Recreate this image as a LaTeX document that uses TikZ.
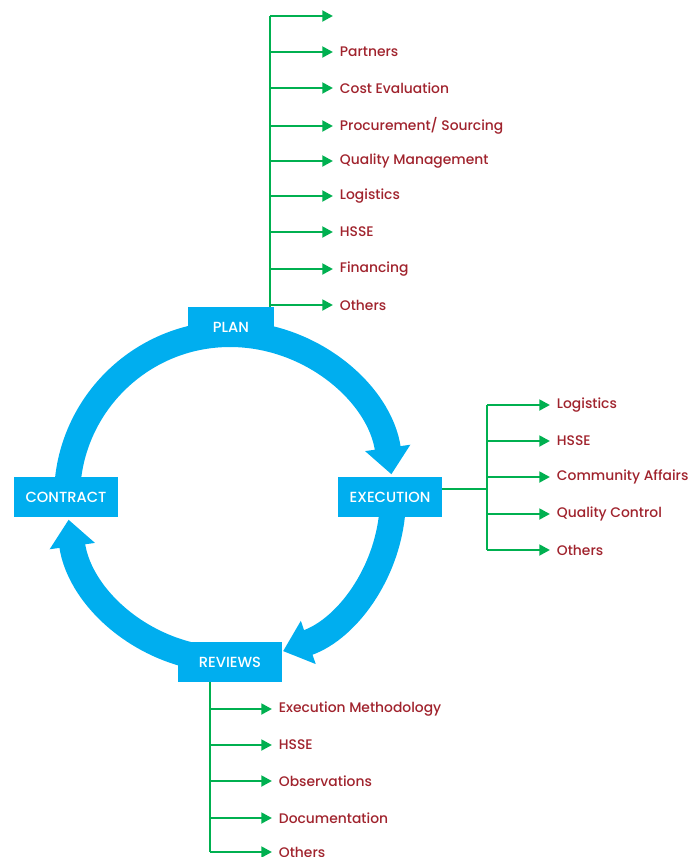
\documentclass[tikz,border=0pt]{standalone}
\usepackage{fontspec}
\setmainfont{Poppins}
\newfontfamily\mediumfont{Poppins Medium}
\usetikzlibrary{arrows.meta}
\definecolor{cyclecyan}{RGB}{0,174,239}
\definecolor{treegreen}{RGB}{0,176,80}
\definecolor{itemred}{RGB}{160,35,45}
\tikzset{
  stage/.style={fill=cyclecyan, text=white, minimum height=30pt, inner sep=0pt, font=\mediumfont\fontsize{11}{13}\selectfont},
  ring/.style={draw=cyclecyan, line width=19.5pt},
  ringarrow/.style={ring, -{Triangle[width=33pt,length=20pt]}},
  branch/.style={draw=treegreen, line width=2.2pt},
  leaf/.style={branch, -{Triangle[width=8pt,length=8pt]}},
  item/.style={anchor=west, inner sep=5pt, text=itemred, font=\mediumfont\fontsize{10.4}{12}\selectfont},
}
\begin{document}
\begin{tikzpicture}[x=0.75pt, y=-0.75pt]
    \useasboundingbox (0,0) rectangle (689,857);
    \coordinate (hub) at (230,497);

    % the cycle
    \draw [ringarrow] (hub) ++(-90:163) arc[start angle=-90, end angle=-8, radius=163];
    \draw [ringarrow] (hub) ++(0:163) arc[start angle=0, end angle=71, radius=163];
    \draw [ringarrow] (hub) ++(90:163) arc[start angle=90, end angle=172, radius=163];
    \draw [ring] (hub) ++(-180:163) arc[start angle=-180, end angle=-90, radius=163];

    \node [stage, minimum width=64.5pt] (plan) at (231,327) {PLAN};
    \node [stage, minimum width=78pt] (contract) at (66,497) {CONTRACT};
    \node [stage, minimum width=78pt] (execution) at (390,497) {EXECUTION};
    \node [stage, minimum width=78pt] (reviews) at (230,662) {REVIEWS};

    % plan items
    \coordinate (plantop) at (270,16);
    \coordinate (plan0) at (333,16);
    \node [item] (plan1) at (333,52) {Partners};
    \node [item] (plan2) at (333,88) {Cost Evaluation};
    \node [item] (plan3) at (333,126) {Procurement/ Sourcing};
    \node [item] (plan4) at (333,161) {Quality Management};
    \node [item] (plan5) at (333,196) {Logistics};
    \node [item] (plan6) at (333,232) {HSSE};
    \node [item] (plan7) at (333,269) {Financing};
    \node [item] (plan8) at (333,305) {Others};
    \draw [branch] (plantop |- plan.north) -- (plantop);
    \draw [leaf] (plantop) -- (plan0);
    \draw [leaf] (plantop |- plan1.west) -- (plan1.west);
    \draw [leaf] (plantop |- plan2.west) -- (plan2.west);
    \draw [leaf] (plantop |- plan3.west) -- (plan3.west);
    \draw [leaf] (plantop |- plan4.west) -- (plan4.west);
    \draw [leaf] (plantop |- plan5.west) -- (plan5.west);
    \draw [leaf] (plantop |- plan6.west) -- (plan6.west);
    \draw [leaf] (plantop |- plan7.west) -- (plan7.west);
    \draw [leaf] (plantop |- plan8.west) -- (plan8.west);

    % execution items
    \coordinate (execjoint) at (487,489);
    \node [item] (exec1) at (550,405) {Logistics};
    \node [item] (exec2) at (550,441) {HSSE};
    \node [item] (exec3) at (550,477) {Community Affairs};
    \node [item] (exec4) at (550,514) {Quality Control};
    \node [item] (exec5) at (550,550) {Others};
    \draw [branch] (execution.east |- execjoint) -- (execjoint);
    \draw [branch] (execjoint |- exec1.west) -- (execjoint |- exec5.west);
    \draw [leaf] (execjoint |- exec1.west) -- (exec1.west);
    \draw [leaf] (execjoint |- exec2.west) -- (exec2.west);
    \draw [leaf] (execjoint |- exec3.west) -- (exec3.west);
    \draw [leaf] (execjoint |- exec4.west) -- (exec4.west);
    \draw [leaf] (execjoint |- exec5.west) -- (exec5.west);

    % review items
    \coordinate (revroot) at (210,682);
    \node [item] (rev1) at (272,709) {Execution Methodology};
    \node [item] (rev2) at (272,745) {HSSE};
    \node [item] (rev3) at (272,781) {Observations};
    \node [item] (rev4) at (272,818) {Documentation};
    \node [item] (rev5) at (272,852) {Others};
    \draw [branch] (revroot) -- (revroot |- rev5.west);
    \draw [leaf] (revroot |- rev1.west) -- (rev1.west);
    \draw [leaf] (revroot |- rev2.west) -- (rev2.west);
    \draw [leaf] (revroot |- rev3.west) -- (rev3.west);
    \draw [leaf] (revroot |- rev4.west) -- (rev4.west);
    \draw [leaf] (revroot |- rev5.west) -- (rev5.west);
\end{tikzpicture}
\end{document}
